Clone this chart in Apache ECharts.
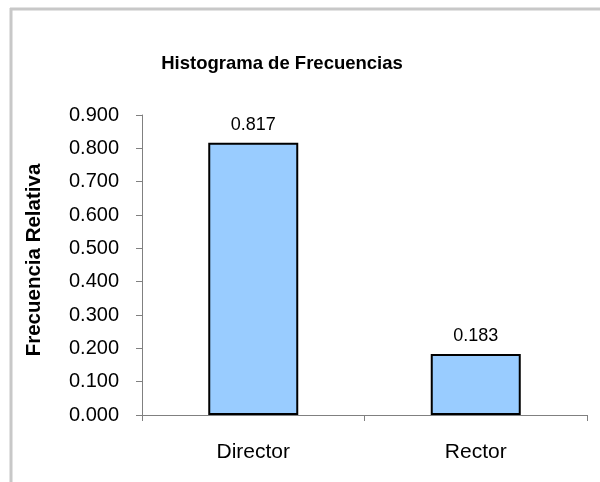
<!DOCTYPE html>
<html>
<head>
<meta charset="utf-8">
<script src="https://cdn.jsdelivr.net/npm/echarts@6/dist/echarts.min.js"></script>
<style>html,body{margin:0;padding:0;background:#fff;}#c{width:600px;height:482px;}</style>
</head>
<body>
<div id="c"></div>
<script>
const categories = ['Director', 'Rector'];
const values = [0.817, 0.183];
const titleText = 'Histograma de Frecuencias';
const yAxisName = 'Frecuencia Relativa';

const chart = echarts.init(document.getElementById('c'), null, {renderer: 'canvas'});
const F = '"Liberation Sans", Arial, sans-serif';
chart.setOption({
  animation: false,
  backgroundColor: '#fff',
  title: {
    text: titleText, left: 277, top: 49, textAlign: 'center',
    textStyle: {fontFamily: F, fontSize: 18.5, fontWeight: 'bold', color: '#000'}
  },
  graphic: [
    {type: 'line', shape: {x1: 10, y1: 9, x2: 600, y2: 9}, style: {stroke: '#c8c8c8', lineWidth: 3}},
    {type: 'line', shape: {x1: 11, y1: 8, x2: 11, y2: 482}, style: {stroke: '#c8c8c8', lineWidth: 3}}
  ],
  grid: {left: 142, right: 13, top: 115, bottom: 67},
  xAxis: {
    type: 'category', data: categories,
    axisLine: {lineStyle: {color: '#808080', width: 1}},
    axisTick: {show: true, length: 6, lineStyle: {color: '#808080'}},
    axisLabel: {fontFamily: F, fontSize: 21, color: '#000', margin: 27}
  },
  yAxis: {
    type: 'value', min: 0, max: 0.9, interval: 0.1,
    name: yAxisName, nameLocation: 'middle', nameGap: 97,
    nameTextStyle: {fontFamily: F, fontSize: 20.5, fontWeight: 'bold', color: '#000', padding: [0, 0, 0, 10]},
    axisLine: {show: true, lineStyle: {color: '#808080', width: 1}},
    axisTick: {show: true, length: 6, lineStyle: {color: '#808080'}},
    splitLine: {show: false},
    axisLabel: {fontFamily: F, fontSize: 20, color: '#000', margin: 23,
      formatter: v => v.toFixed(3)}
  },
  series: [{
    type: 'bar', data: values, barWidth: 90,
    itemStyle: {color: '#99CCFF', borderColor: '#000', borderWidth: 2},
    label: {show: true, position: 'top', distance: 9, fontFamily: F, fontSize: 18, color: '#000',
      formatter: p => p.value.toFixed(3)}
  }]
});
</script>
</body>
</html>
